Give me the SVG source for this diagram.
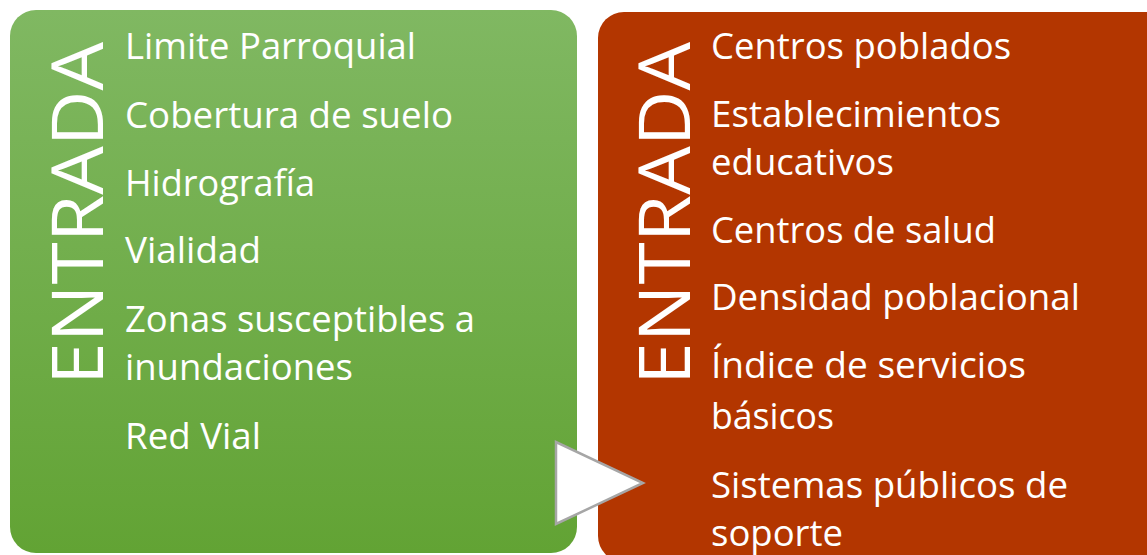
<svg xmlns="http://www.w3.org/2000/svg" width="1147" height="555" viewBox="0 0 1147 555">
<defs>
<linearGradient id="gGreen" x1="0" y1="0" x2="0" y2="1">
<stop offset="0" stop-color="#80B862"/>
<stop offset="1" stop-color="#62A334"/>
</linearGradient>
<style>
.item{font-family:"Open Sans","Noto Sans",sans-serif;font-size:37px;fill:#FFFFFF;}
.title{font-family:"Open Sans","Noto Sans",sans-serif;font-size:72px;font-weight:400;fill:#FFFFFF;}
</style>
</defs>
<rect width="1147" height="555" fill="#FFFFFF"/>
<g id="node-left">
<rect x="10" y="10" width="567" height="543" rx="26" ry="26" fill="url(#gGreen)"/>
<text class="title" transform="translate(103,385) rotate(-90)" x="0" y="0" textLength="343" lengthAdjust="spacingAndGlyphs">ENTRADA</text>
<text class="item" x="125" y="59" textLength="291" lengthAdjust="spacingAndGlyphs">Limite Parroquial</text>
<text class="item" x="125" y="128" textLength="328" lengthAdjust="spacingAndGlyphs">Cobertura de suelo</text>
<text class="item" x="125" y="196" textLength="190" lengthAdjust="spacingAndGlyphs">Hidrografía</text>
<text class="item" x="125" y="263" textLength="136" lengthAdjust="spacingAndGlyphs">Vialidad</text>
<text class="item" x="125" y="332" textLength="350" lengthAdjust="spacingAndGlyphs">Zonas susceptibles a</text>
<text class="item" x="125" y="380" textLength="228" lengthAdjust="spacingAndGlyphs">inundaciones</text>
<text class="item" x="125" y="449" textLength="136" lengthAdjust="spacingAndGlyphs">Red Vial</text>
</g>
<g id="node-right">
<rect x="598" y="12" width="575" height="550" rx="26" ry="26" fill="#B33600"/>
<text class="title" transform="translate(690,385) rotate(-90)" x="0" y="0" textLength="343" lengthAdjust="spacingAndGlyphs">ENTRADA</text>
<text class="item" x="711" y="59" textLength="300" lengthAdjust="spacingAndGlyphs">Centros poblados</text>
<text class="item" x="711" y="127" textLength="290" lengthAdjust="spacingAndGlyphs">Establecimientos</text>
<text class="item" x="711" y="175" textLength="183" lengthAdjust="spacingAndGlyphs">educativos</text>
<text class="item" x="711" y="243" textLength="285" lengthAdjust="spacingAndGlyphs">Centros de salud</text>
<text class="item" x="711" y="310" textLength="369" lengthAdjust="spacingAndGlyphs">Densidad poblacional</text>
<text class="item" x="711" y="378" textLength="315" lengthAdjust="spacingAndGlyphs">Índice de servicios</text>
<text class="item" x="711" y="429" textLength="123" lengthAdjust="spacingAndGlyphs">básicos</text>
<text class="item" x="711" y="498" textLength="357" lengthAdjust="spacingAndGlyphs">Sistemas públicos de</text>
<text class="item" x="711" y="546" textLength="132" lengthAdjust="spacingAndGlyphs">soporte</text>
</g>
<g id="connectors">
<polygon points="556,442 556,524 643,483" fill="#FFFFFF" stroke="#A6A6A6" stroke-width="2.5" stroke-linejoin="miter"/>
</g>
</svg>
